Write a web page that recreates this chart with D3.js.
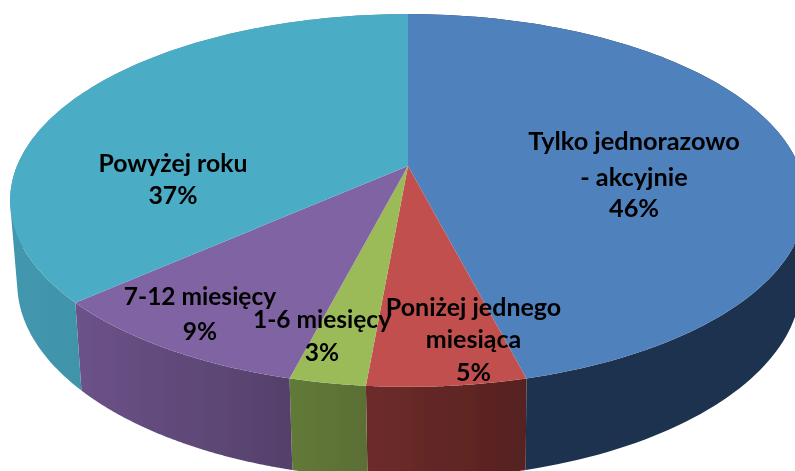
<!DOCTYPE html>
<html><head><meta charset="utf-8">
<script src="https://cdn.jsdelivr.net/npm/d3@7"></script>
<style>html,body{margin:0;padding:0;background:#fff}svg{display:block}</style>
</head><body><svg id="c" width="795" height="471"></svg>
<script>
const categories = ["Tylko jednorazowo - akcyjnie","Poniżej jednego miesiąca","1-6 miesięcy","7-12 miesięcy","Powyżej roku"];
const values = [46, 5.4, 2.6, 9.4, 36.6];
const percentLabels = ["46%","5%","3%","9%","37%"];
const topColors = ["#4f81bd","#c0504d","#9bbb59","#8064a2","#4bacc6"];
const sideLeftColors = ["#1f3350","#6e2c2b","#627a38","#6c5289","#4397ae"];
const sideRightColors = ["#1f3350","#552120","#5a6f35","#54406a","#3f92a8"];

const svg=d3.select("#c");
const defs=svg.append("defs");
defs.append("filter").attr("id","soft").append("feGaussianBlur").attr("stdDeviation",0.45);
const k=0.185;
const topPlane={cx:408,cy:166,R:391,S:180};
const botPlane={cx:409,cy:247,R:385,S:189};
const project=(p,a)=>{const x=Math.sin(a),v=-Math.cos(a),d=1-k*v;return [p.cx+p.R*x/d,p.cy+p.S*v/d];};
const arcs=d3.pie().sort(null).value(d=>d)(values);
const line=d3.line().curve(d3.curveLinear);
const samples=a=>d3.range(0,121).map(i=>a.startAngle+(a.endAngle-a.startAngle)*i/120);
const root=svg.append("g").attr("filter","url(#soft)");
arcs.forEach((a,i)=>{
  const pts=samples(a);
  const t=pts.map(q=>project(topPlane,q)),b=pts.map(q=>project(botPlane,q));
  const visible=t.concat(b).filter(p=>p[1]>150).map(p=>p[0]);
  const id="side"+i;
  const g=defs.append("linearGradient").attr("id",id).attr("gradientUnits","userSpaceOnUse")
    .attr("x1",d3.min(visible)).attr("x2",d3.max(visible)).attr("y1",0).attr("y2",0);
  g.append("stop").attr("offset",0).attr("stop-color",sideLeftColors[i]);
  g.append("stop").attr("offset",1).attr("stop-color",sideRightColors[i]);
  const quads=d3.range(pts.length-1).map(j=>{
    const q=[t[j],t[j+1],b[j+1],b[j]];
    return line(d3.polygonArea(q)<0?q.slice().reverse():q)+"Z";
  }).join("");
  root.append("path").attr("d",quads).attr("fill",`url(#${id})`).attr("fill-rule","nonzero");
});
arcs.forEach((a,i)=>{
  const t=samples(a).map(q=>project(topPlane,q));
  root.append("path").attr("d",line([[topPlane.cx,topPlane.cy]].concat(t))+"Z").attr("fill",topColors[i]);
});
const labelLayout=[
 {x:634,size:25.3,y:[150,186,217],lines:["Tylko jednorazowo","- akcyjnie"]},
 {x:473.5,size:25,y:[316,348,381],lines:["Poniżej jednego","miesiąca"]},
 {x:322,size:24.5,y:[328,361],lines:["1-6 miesięcy"]},
 {x:200,size:24.5,y:[305,340],lines:["7-12 miesięcy"]},
 {x:173,size:24.8,y:[172,204],lines:["Powyżej roku"]}
];
labelLayout.forEach((l,i)=>{
  l.lines.concat(percentLabels[i]).forEach((s,j)=>{
    root.append("text").attr("x",l.x).attr("y",l.y[j]).attr("text-anchor","middle")
      .attr("font-family","Lato, 'Open Sans', sans-serif").attr("font-weight",700).attr("font-size",l.size)
      .attr("fill","#000").text(s);
  });
});
</script></body></html>
